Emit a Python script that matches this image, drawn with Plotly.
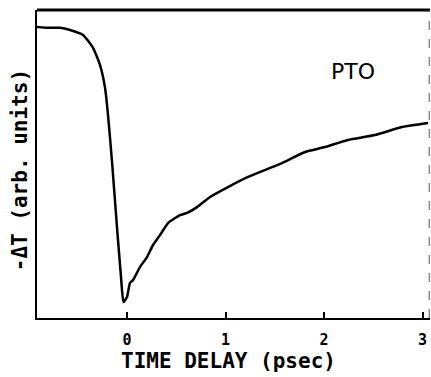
import plotly.graph_objects as go

# Data (time delay in psec, -dT in arbitrary units)
time_ps = [-0.914, -0.782, -0.680, -0.579, -0.447, -0.345, -0.274, -0.223, -0.193,
           -0.152, -0.102, -0.061, -0.036, 0.0, 0.030, 0.061, 0.132, 0.203, 0.264,
           0.335, 0.416, 0.538, 0.609, 0.711, 0.843, 1.025, 1.228, 1.574, 1.807,
           2.010, 2.244, 2.518, 2.792, 3.056]
neg_dT = [0.945, 0.942, 0.942, 0.935, 0.919, 0.877, 0.821, 0.747, 0.659,
          0.506, 0.295, 0.133, 0.052, 0.068, 0.114, 0.123, 0.166, 0.198, 0.237,
          0.269, 0.308, 0.334, 0.341, 0.360, 0.393, 0.425, 0.458, 0.503, 0.539,
          0.555, 0.578, 0.594, 0.620, 0.633]
x_ticks = [0, 1, 2, 3]
x_tick_labels = ["<b>0</b>", "<b>1</b>", "<b>2</b>", "<b>3</b>"]

MONO = "DejaVu Sans Mono"

fig = go.Figure()
fig.add_trace(go.Scatter(
    x=time_ps, y=neg_dT, mode="lines",
    line=dict(color="black", width=2.5, shape="spline", smoothing=0.5),
    showlegend=False, hoverinfo="skip",
))

fig.update_layout(
    width=431, height=377,
    margin=dict(l=37, r=1, t=10, b=59),
    paper_bgcolor="white", plot_bgcolor="white",
    xaxis=dict(
        range=[-0.914, 3.076], tickvals=x_ticks, ticktext=x_tick_labels,
        ticks="inside", ticklen=6, tickwidth=2, tickcolor="black",
        showline=True, linecolor="black", linewidth=2, mirror=False,
        showgrid=False, zeroline=False,
        ticklabelstandoff=7,
        tickfont=dict(family=MONO, size=15, color="black"),
    ),
    yaxis=dict(
        range=[0, 1], showticklabels=False, ticks="",
        showline=True, linecolor="black", linewidth=2, mirror=False,
        showgrid=False, zeroline=False,
    ),
    annotations=[
        dict(text="<b>TIME DELAY (psec)</b>", xref="paper", yref="paper",
             x=(228 - 37) / 393, y=-0.14, xanchor="center", yanchor="middle", showarrow=False,
             font=dict(family=MONO, size=21, color="black")),
        dict(text="<b>-ΔT (arb. units)</b>", textangle=-90, xref="paper", yref="paper",
             x=-0.043, y=0.48, xanchor="center", yanchor="middle", showarrow=False,
             font=dict(family=MONO, size=21, color="black")),
        dict(text="PTO", xref="x", yref="y", x=2.29, y=0.80, showarrow=False,
             font=dict(family="DejaVu Sans", size=22, color="black")),
    ],
    shapes=[
        dict(type="line", xref="paper", yref="paper", x0=0, x1=1, y0=1, y1=1,
             line=dict(color="black", width=3)),
        dict(type="line", xref="paper", yref="paper", x0=0.998, x1=0.998, y0=0, y1=1,
             line=dict(color="#555555", width=1, dash="dash")),
    ],
)

fig.write_html("out.html")
